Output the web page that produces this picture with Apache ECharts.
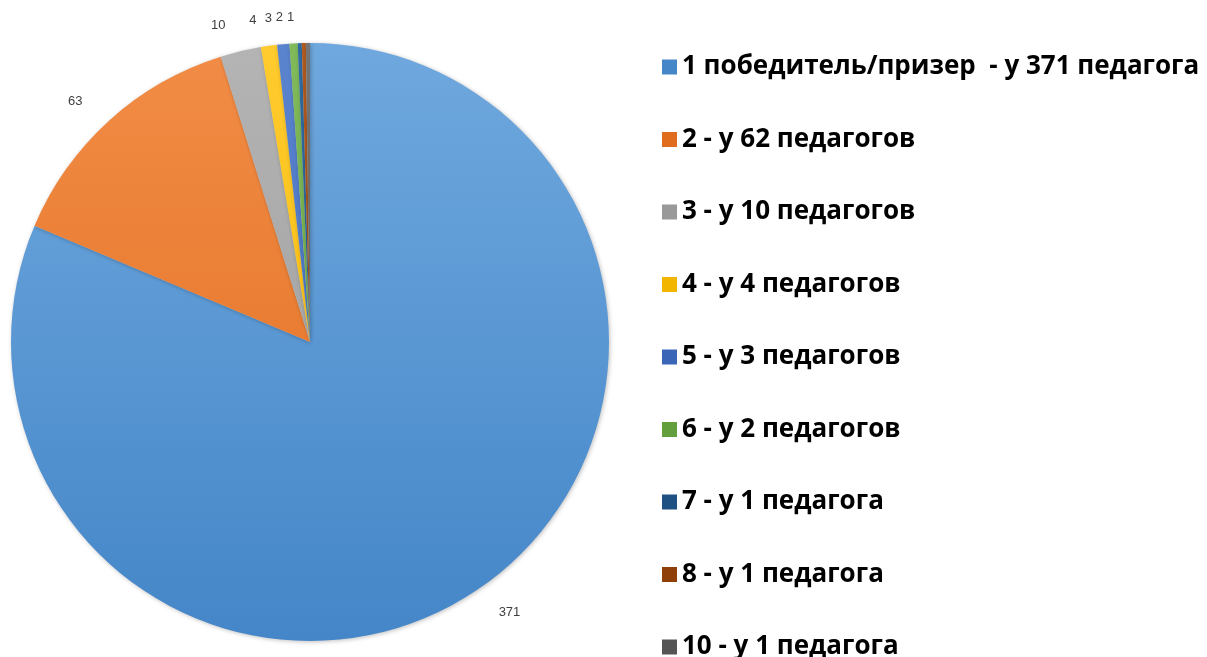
<!DOCTYPE html>
<html><head><meta charset="utf-8">
<script src="https://cdn.jsdelivr.net/npm/echarts@6/dist/echarts.min.js"></script>
<style>html,body{margin:0;padding:0;background:#fff}#c{width:1207px;height:657px}</style>
</head><body><div id="c"></div>
<script>
const categories = ['1 победитель/призер  - у 371 педагога','2 - у 62 педагогов','3 - у 10 педагогов','4 - у 4 педагогов','5 - у 3 педагогов','6 - у 2 педагогов','7 - у 1 педагога','8 - у 1 педагога','10 - у 1 педагога'];
const values = [371, 63, 10, 4, 3, 2, 1, 1, 1];
const lightColors = ['#6FA8DE','#F28C46','#B4B4B4','#FFCB2E','#5A84CE','#80BA5A','#2F6CA3','#B05A1E','#747474'];
const darkColors  = ['#4486C8','#E06D1E','#999999','#F2B600','#3B66B8','#63A03D','#1F5283','#8E3F0A','#555555'];

const chart = echarts.init(document.getElementById('c'));
const data = values.map((v, i) => ({
  name: categories[i], value: v,
  itemStyle: { color: new echarts.graphic.LinearGradient(0, 43, 0, 641, [
    { offset: 0, color: lightColors[i] }, { offset: 1, color: darkColors[i] }], true) }
}));
chart.setOption({
  animation: false,
  color: darkColors,
  legend: {
    type: 'plain', orient: 'vertical', left: 657, top: 49, height: 640, itemWidth: 15, itemHeight: 15, itemGap: 46.5,
    icon: 'rect',
    textStyle: { fontFamily: 'Open Sans', fontWeight: 'bold', fontSize: 26, color: '#000', lineHeight: 24 },
    data: categories.map((c, i) => ({ name: c, itemStyle: { color: darkColors[i] } }))
  },
  series: [{
    type: 'pie', center: [310, 342], radius: 299, startAngle: 90, clockwise: true,
    avoidLabelOverlap: false,
    label: { show: true, position: 'outside', formatter: '{c}', fontFamily: 'Liberation Sans', fontSize: 13, color: '#404040' },
    labelLine: { show: false, length: 26, length2: 4 },
    itemStyle: { shadowBlur: 4, shadowColor: 'rgba(0,0,0,0.25)', shadowOffsetX: 1, shadowOffsetY: 1 },
    emphasis: { disabled: true },
    data: data
  }]
});
</script></body></html>
